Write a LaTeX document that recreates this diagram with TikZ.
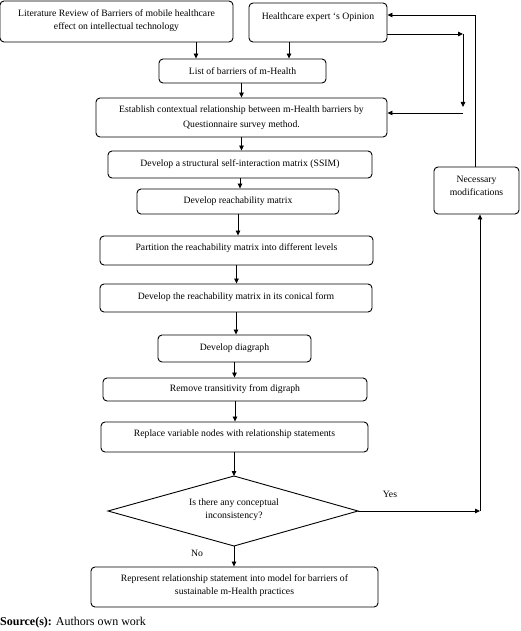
\documentclass[tikz,border=0pt]{standalone}
\usepackage{fontspec}
\setmainfont{Liberation Serif}
\usetikzlibrary{arrows.meta}
\begin{document}
\begin{tikzpicture}[x=1pt,y=-1pt,
  box/.style={draw, rounded corners=4pt, line width=0.9pt, align=center, inner sep=0pt,
    font=\fontsize{9.7}{13}\selectfont},
  arr/.style={line width=0.8pt, -{Triangle[length=5pt,width=4.5pt]}},
  lbl/.style={font=\fontsize{9.7}{13}\selectfont, inner sep=0pt}]
\useasboundingbox (0,0) rectangle (520,631);
% boxes
\node[box, minimum width=233pt, minimum height=41pt] (lit) at (116.5,21.5)
  {Literature Review of Barriers of mobile healthcare\\effect on intellectual technology\\[-9pt]\mbox{}};
\node[box, minimum width=138pt, minimum height=39pt] (exp) at (318,22.5)
  {Healthcare expert `s Opinion\\\mbox{}};
\node[box, minimum width=167pt, minimum height=24pt] (list) at (242.5,71)
  {List of barriers of m-Health};
\node[box, minimum width=291pt, minimum height=39pt, font=\fontsize{9.7}{15}\selectfont] (est) at (241.5,117.5)
  {Establish contextual relationship between m-Health barriers by\\Questionnaire survey method.};
\node[box, minimum width=264pt, minimum height=27pt] (ssim) at (240,164.5)
  {Develop a structural self-interaction matrix (SSIM)};
\node[box, minimum width=202pt, minimum height=25pt] (reach) at (238,201.5)
  {Develop reachability matrix};
\node[box, minimum width=273pt, minimum height=29pt] (part) at (236.5,250.5)
  {Partition the reachability matrix into different levels\\[-6pt]\mbox{}};
\node[box, minimum width=272pt, minimum height=28pt] (con) at (236,298)
  {Develop the reachability matrix in its conical form\\[-9pt]\mbox{}};
\node[box, minimum width=153pt, minimum height=27pt] (dig) at (234.5,348.5)
  {Develop diagraph\\[-10pt]\mbox{}};
\node[box, minimum width=264pt, minimum height=23pt] (rem) at (235,389.5)
  {Remove transitivity from digraph};
\node[box, minimum width=267pt, minimum height=30pt] (rep) at (234.5,437)
  {Replace variable nodes with relationship statements\\[-5pt]\mbox{}};
\node[box, minimum width=85pt, minimum height=47pt] (nec) at (476.5,190.5)
  {Necessary\\modifications\\[-3pt]\mbox{}};
\node[box, minimum width=287pt, minimum height=40pt] (fin) at (234.5,587)
  {Represent relationship statement into model for barriers of\\sustainable m-Health practices\\[-8pt]\mbox{}};
% decision diamond
\coordinate (dt) at (234,476);
\coordinate (dl) at (108,511);
\coordinate (dr) at (358,511);
\coordinate (db) at (234,546);
\draw[line width=0.9pt] (dt) -- (dr) -- (db) -- (dl) -- cycle;
\node[lbl, align=center] (dtext) at (234,510)
  {Is there any conceptual\\inconsistency?};
\node[lbl] (yes) at (390,494) {Yes};
\node[lbl] (no) at (197,553) {No};
\node[anchor=west, inner sep=0pt, font=\fontsize{12}{14}\selectfont] (src) at (0,623)
  {\textbf{Source(s):} Authors own work};
% helper coordinates
\coordinate (a1) at (196,0);
\coordinate (a2) at (289,0);
\coordinate (c3) at (475,15);
\coordinate (c4) at (463,34);
\coordinate (c5) at (463,107);
\coordinate (c6) at (463,113);
\coordinate (c2) at (480,511);
% arrows
\draw[arr] (lit.south -| a1) -- (list.north -| a1);
\draw[arr] (exp.south -| a2) -- (list.north -| a2);
\draw[arr] (list.south -| est.north) -- (est.north);
\draw[arr] (est.south) -- (est.south |- ssim.north);
\draw[arr] (ssim.south) -- (ssim.south |- reach.north);
\draw[arr] (reach.south) -- (reach.south |- part.north);
\draw[arr] (part.south) -- (part.south |- con.north);
\draw[arr] (con.south) -- (con.south |- dig.north);
\draw[arr] (dig.south) -- (dig.south |- rem.north);
\draw[arr] (rem.south) -- (rem.south |- rep.north);
\draw[arr] (rep.south -| dt) -- (dt);
\draw[arr] (db) -- (db |- fin.north);
\draw[arr] (dr) -- (c2);
\draw[arr] (c2) -- (c2 |- nec.south);
\draw[arr] (nec.north -| c3) -- (c3) -- (exp.north east |- c3);
\draw[arr] (exp.east |- c4) -- (c4);
\draw[arr] (c4) -- (c5);
\draw[arr] (c6) -- (est.east |- c6);
\end{tikzpicture}
\end{document}
